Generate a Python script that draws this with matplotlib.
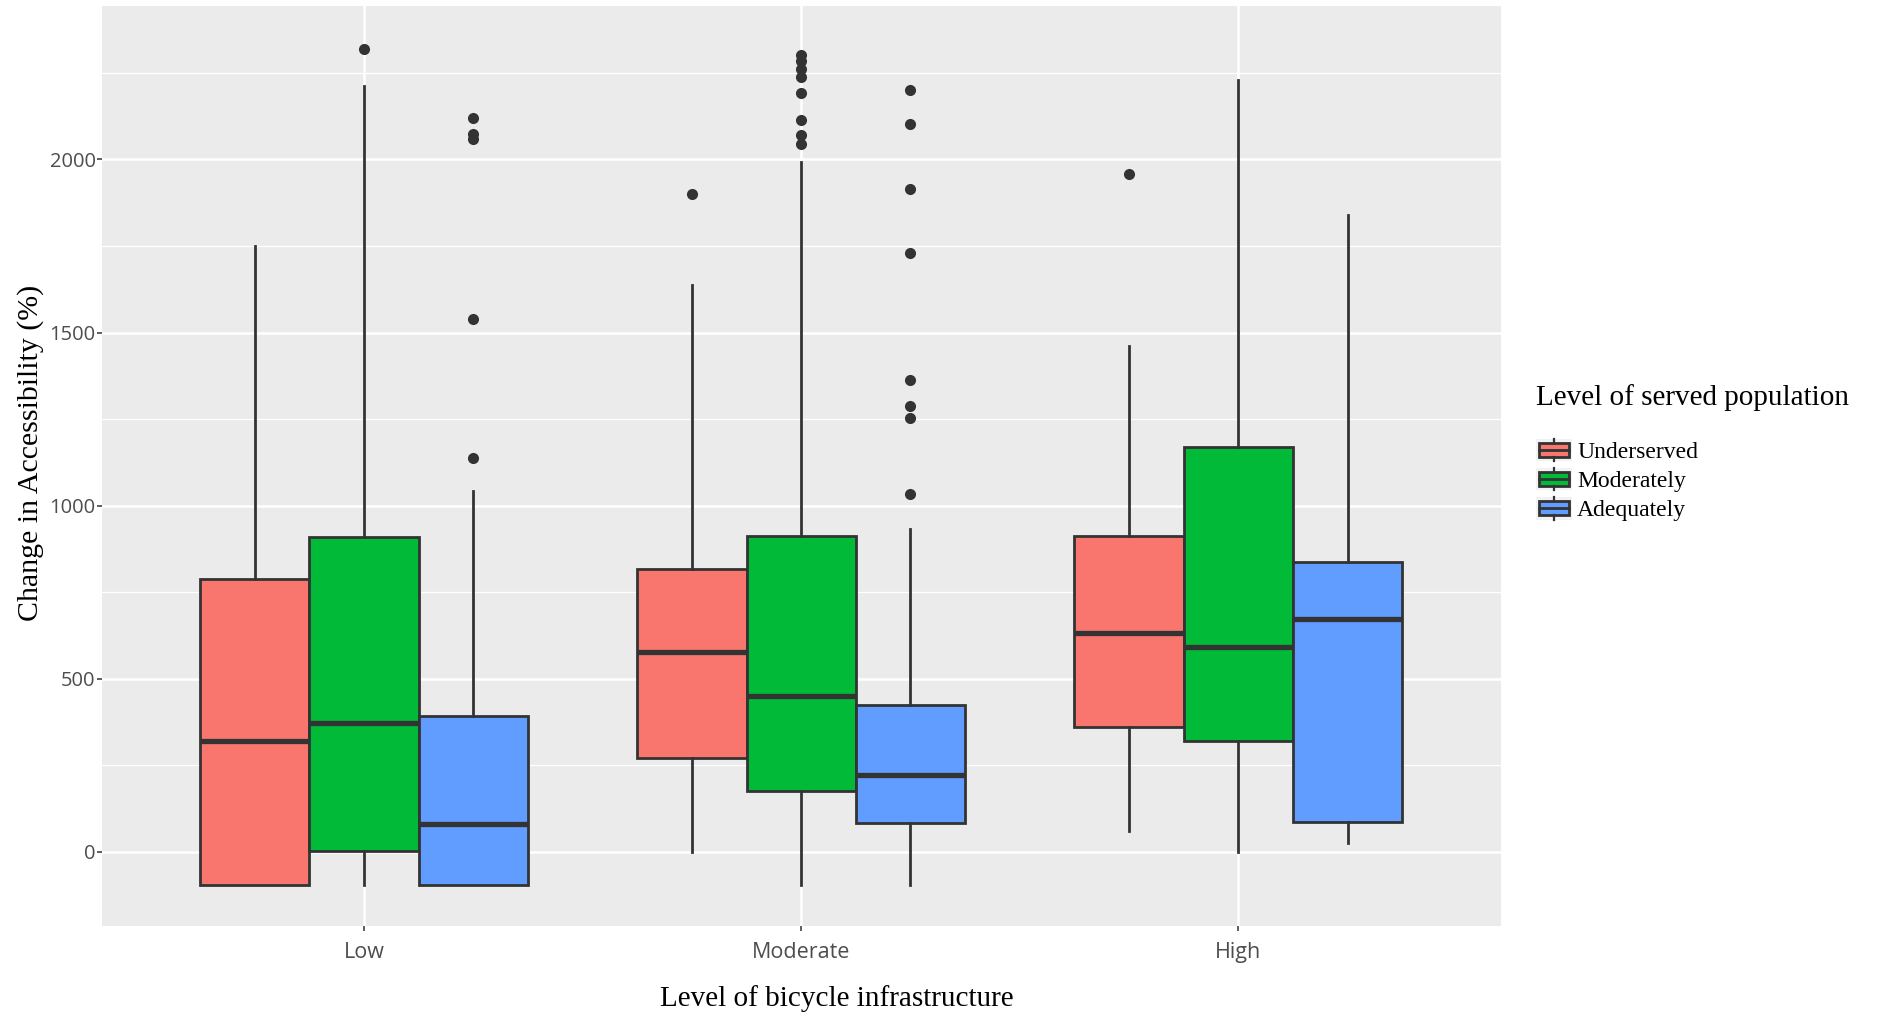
import matplotlib
matplotlib.use('Agg')
import matplotlib.pyplot as plt
from matplotlib.patches import Rectangle, Patch
from matplotlib.lines import Line2D
from matplotlib.legend_handler import HandlerBase

# DATA
infra_levels = ['Low', 'Moderate', 'High']
groups = ['Underserved', 'Moderately', 'Adequately']
group_colors = ['#F8766D', '#00BA38', '#619CFF']

# [whisker low, q1, median, q3, whisker high] for Low / Moderate / High
under_stats = [[-97, -97, 320, 788, 1749],
               [0, 272, 578, 818, 1637],
               [59, 360, 631, 911, 1462]]
moder_stats = [[-97, 1, 372, 910, 2211],
               [-95, 176, 451, 911, 1993],
               [0, 319, 591, 1168, 2229]]
adeq_stats = [[-97, -97, 79, 391, 1041],
              [-95, 83, 221, 425, 932],
              [24, 85, 671, 836, 1839]]

under_out = [[], [1900], [1958]]
moder_out = [[2320], [2301, 2283, 2262, 2238, 2191, 2115, 2072, 2045], []]
adeq_out = [[2119, 2074, 2058, 1539, 1138],
            [2201, 2103, 1916, 1730, 1364, 1287, 1252, 1032], []]

y_ticks = [0, 500, 1000, 1500, 2000]

all_stats = [under_stats, moder_stats, adeq_stats]
all_out = [under_out, moder_out, adeq_out]

# LEGEND KEY (ggplot style box glyph)
class BoxKeyHandler(HandlerBase):
    def create_artists(self, legend, orig_handle, xdescent, ydescent,
                       width, height, fontsize, trans):
        x0, y0 = -xdescent, -ydescent
        bg = Rectangle((x0, y0), width, height, facecolor='#F2F2F2',
                       edgecolor='none', transform=trans)
        bw, bh = width * 0.82, height * 0.62
        bx, by = x0 + (width - bw) / 2, y0 + (height - bh) / 2
        box = Rectangle((bx, by), bw, bh, facecolor=orig_handle.get_facecolor(),
                        edgecolor='#333333', linewidth=2.0, transform=trans)
        xm, ym = x0 + width / 2, y0 + height / 2
        med = Line2D([bx, bx + bw], [ym, ym], color='#333333', lw=2.0, transform=trans)
        w1 = Line2D([xm, xm], [y0, by], color='#333333', lw=1.6, transform=trans)
        w2 = Line2D([xm, xm], [by + bh, y0 + height], color='#333333', lw=1.6, transform=trans)
        return [bg, box, med, w1, w2]


fig = plt.figure(figsize=(18.78, 10.16), dpi=100)
ax = fig.add_axes([0.0542, 0.0888, 0.7448, 0.9052])
ax.set_facecolor('#EBEBEB')

width = 0.25
offsets = [-0.25, 0.0, 0.25]

for g in range(len(groups)):
    stats = []
    for i in range(len(infra_levels)):
        lo, q1, med, q3, hi = all_stats[g][i]
        stats.append({'whislo': lo, 'q1': q1, 'med': med, 'q3': q3,
                      'whishi': hi, 'fliers': all_out[g][i]})
    pos = [i + 1 + offsets[g] for i in range(len(infra_levels))]
    ax.bxp(stats, positions=pos, widths=width, patch_artist=True,
           showcaps=False, manage_ticks=False,
           boxprops=dict(facecolor=group_colors[g], edgecolor='#333333', linewidth=2.0),
           medianprops=dict(color='#333333', linewidth=3.8, solid_capstyle='butt'),
           whiskerprops=dict(color='#333333', linewidth=2.0),
           flierprops=dict(marker='o', markerfacecolor='#333333',
                           markeredgecolor='none', markersize=8))

ax.set_xlim(0.4, 3.6)
ax.set_ylim(-214, 2443)
ax.set_xticks([1, 2, 3])
ax.set_xticklabels(infra_levels)
ax.set_yticks(y_ticks)
ax.set_yticks([250, 750, 1250, 1750, 2250], minor=True)

ax.grid(which='major', color='white', linewidth=1.8)
ax.grid(which='minor', axis='y', color='white', linewidth=0.9)
ax.set_axisbelow(True)
for s in ax.spines.values():
    s.set_visible(False)

ax.tick_params(axis='both', which='major', length=3.5, width=1.1, color='#333333',
               labelcolor='#4D4D4D', labelsize=14.5)
ax.tick_params(axis='x', pad=8, labelsize=15.5)
ax.tick_params(axis='y', pad=1)
ax.tick_params(which='minor', length=0)
for lab in ax.get_xticklabels() + ax.get_yticklabels():
    lab.set_fontfamily('Open Sans')

ax.set_xlabel('Level of bicycle infrastructure', fontfamily='Liberation Serif',
              fontsize=21, color='black')
ax.set_ylabel('Change in Accessibility (%)', fontfamily='Liberation Serif',
              fontsize=21.5, color='black')
ax.xaxis.set_label_coords(0.5256, -0.064)
ax.yaxis.set_label_coords(-0.041, 0.514)

handles = [Patch(facecolor=c) for c in group_colors]
leg = fig.legend(handles, groups, loc='upper left',
                 bbox_to_anchor=(1536 / 1878, 1 - 384 / 1016),
                 frameon=False, title='Level of served population',
                 title_fontproperties={'family': 'Liberation Serif', 'size': 21},
                 prop={'family': 'Liberation Serif', 'size': 17},
                 handler_map={Patch: BoxKeyHandler()},
                 handlelength=1.52, handleheight=1.1, handletextpad=0.22,
                 labelspacing=0.2, borderpad=0, borderaxespad=0,
                 alignment='left')
# more room between the legend title and the keys
leg._legend_box.sep = 20

fig.savefig('out.png', dpi=100)
